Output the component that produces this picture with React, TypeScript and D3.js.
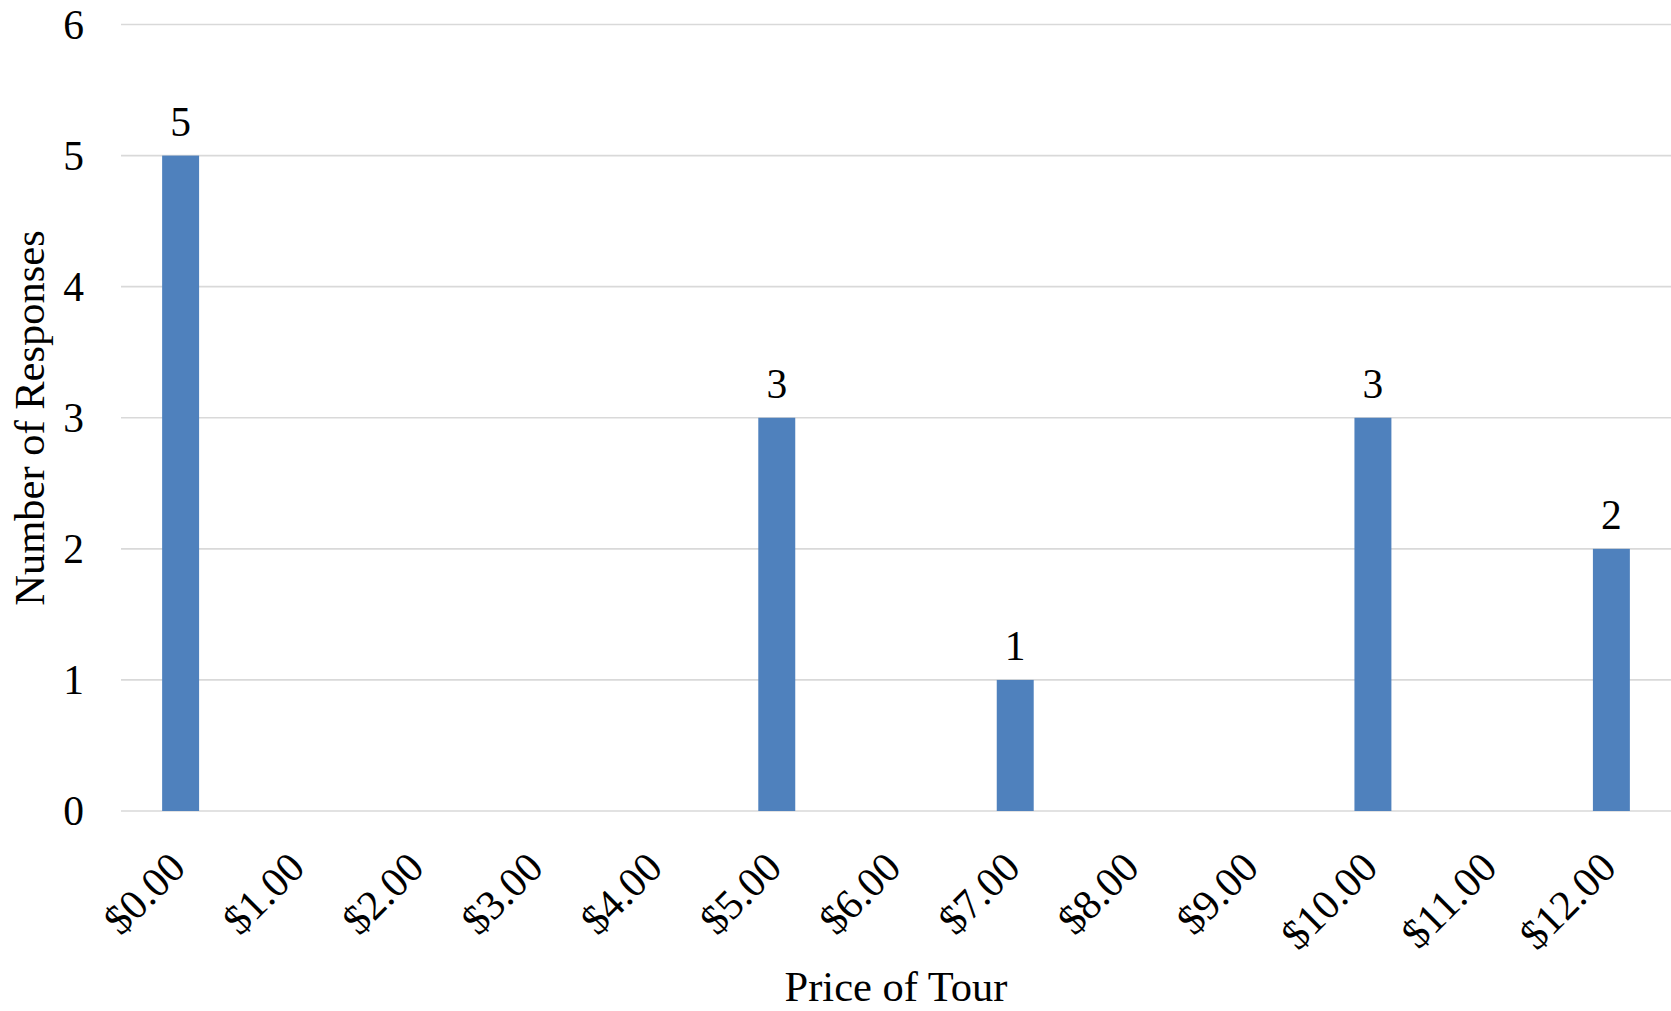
import React from "react";
import * as d3 from "d3";

const categories = ["$0.00", "$1.00", "$2.00", "$3.00", "$4.00", "$5.00", "$6.00", "$7.00", "$8.00", "$9.00", "$10.00", "$11.00", "$12.00"];
const responses = [5, 0, 0, 0, 0, 3, 0, 1, 0, 0, 3, 0, 2];
const yTicks = [0, 1, 2, 3, 4, 5, 6];

const W = 1671;
const H = 1011;
const FONT = "'Liberation Serif', 'Times New Roman', serif";

export default function App() {
  const x = d3.scaleBand<string>().domain(categories).range([121, 1671]).padding(0);
  const y = d3.scaleLinear().domain([0, 6]).range([811, 24.5]);
  const bw = x.bandwidth() * 0.31;

  return (
    <svg width={W} height={H} style={{ position: "absolute", left: 0, top: 0, background: "#fff" }}>
      <rect x={0} y={0} width={W} height={H} fill="#fff" />
      {yTicks.map((t) => (
        <g key={t}>
          <line x1={121} x2={1671} y1={y(t)} y2={y(t)} stroke="#d9d9d9" strokeWidth={1.6} />
          <text x={84} y={y(t)} dy="0.34em" textAnchor="end" fontFamily={FONT} fontSize={41.5} fill="#000">
            {t}
          </text>
        </g>
      ))}
      {categories.map((c, i) => {
        const cx = (x(c) as number) + x.bandwidth() / 2;
        const v = responses[i];
        return (
          <g key={c}>
            {v > 0 && (
              <>
                <rect x={cx - bw / 2} y={y(v)} width={bw} height={y(0) - y(v)} fill="#4f81bd" />
                <text x={cx} y={y(v) - 20} textAnchor="middle" fontFamily={FONT} fontSize={41.5} fill="#000">
                  {v}
                </text>
              </>
            )}
            <text
              transform={`translate(${cx + 7},${870}) rotate(-45)`}
              textAnchor="end"
              fontFamily={FONT}
              fontSize={42}
              fill="#000"
            >
              {c}
            </text>
          </g>
        );
      })}
      <text transform={`translate(44,418) rotate(-90)`} textAnchor="middle" fontFamily={FONT} fontSize={42.5} fill="#000">
        Number of Responses
      </text>
      <text x={896} y={1001} textAnchor="middle" fontFamily={FONT} fontSize={42.5} fill="#000">
        Price of Tour
      </text>
    </svg>
  );
}
